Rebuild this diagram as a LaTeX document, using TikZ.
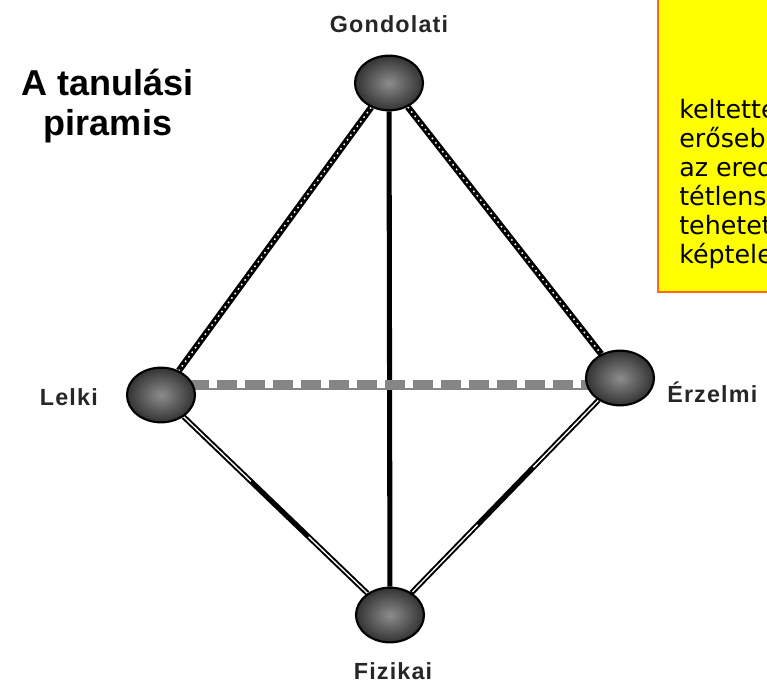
\documentclass[tikz,border=0pt]{standalone}
\usepackage{fontspec}
\setmainfont{Liberation Sans}
\newfontfamily\boxfont{DejaVu Sans}
\newfontfamily\lblfont[LetterSpace=5]{Liberation Sans}
\usetikzlibrary{shapes.geometric,calc,backgrounds}
\definecolor{nodein}{gray}{0.55}
\definecolor{nodeout}{gray}{0.2}
\definecolor{noteyellow}{RGB}{255,255,0}
\definecolor{noteorange}{RGB}{255,102,32}
\definecolor{dashgray}{gray}{0.52}

\begin{document}
\begin{tikzpicture}[x=0.75pt,y=-0.75pt,
  vertex/.style={ellipse,draw=black,line width=1.6pt,minimum width=51pt,
    minimum height=41pt,inner sep=0pt,shading=radial,
    inner color=nodein,outer color=nodeout},
  lbl/.style={font=\lblfont\bfseries\fontsize{17.5}{20}\selectfont,
    text=black!85,inner sep=0pt},
  beadline/.style={line width=4.8pt,black,
    postaction={draw=white,line width=1.1pt,dash pattern=on 1.2pt off 3pt}},
  solidline/.style={line width=3.8pt,black},
  hairline/.style={line width=4pt,black,
    postaction={draw=white,line width=1pt,dash pattern=on 70pt off 60pt}},
  greydash/.style={line width=7pt,dashgray,dash pattern=on 15pt off 6pt},
  notetext/.style={font=\boxfont\fontsize{19}{22}\selectfont,anchor=base west,inner sep=0pt}
]
\useasboundingbox (0,0) rectangle (767,682);

% title
\node[font=\bfseries\fontsize{27}{30}\selectfont,align=center,anchor=base] (title)
  at (108,135) {A tanulási\\piramis};

% the four corners of the pyramid
\node[vertex] (g) at (389,83) {};
\node[vertex] (l) at (161,395) {};
\node[vertex] (e) at (620,378) {};
\node[vertex] (f) at (390,615) {};

% labels
\node[lbl,anchor=base] (gl) at (389,32) {Gondolati};
\node[lbl,anchor=base east] (ll) at (98,405) {Lelki};
\node[lbl,anchor=base west] (el) at (667,402) {Érzelmi};
\node[lbl,anchor=base] (fl) at (393,679) {Fizikai};

% edges
\begin{pgfonlayer}{background}
  \draw[solidline] (g) -- (f);
  \draw[beadline] (g) -- (l);
  \draw[beadline] (g) -- (e);
  \draw[hairline] (l) -- (f);
  \draw[hairline] (e) -- (f);
  \draw[line width=1.6pt,dashgray] ($(l.center)+(0,-6)$) -- ($(e.center)+(0,11)$);
  \draw[greydash] ($(l.center)+(0,-10)$) -- ($(e.center)+(0,7)$);
\end{pgfonlayer}

% note box, running off the right edge
\begin{scope}
  \clip (0,0) rectangle (767,682);
  \node[draw=noteorange,fill=noteyellow,line width=1.6pt,inner sep=0pt,
    minimum width=99pt,minimum height=227pt] (note) at (724,141) {};
  \node[notetext] (n1) at (679,118) {keltette};
  \node[notetext] (n2) at (679,147) {erőseb};
  \node[notetext] (n3) at (679,176) {az ered};
  \node[notetext] (n4) at (679,205) {tétlens};
  \node[notetext] (n5) at (679,234) {tehetet};
  \node[notetext] (n6) at (679,263) {képtele};
\end{scope}
\end{tikzpicture}
\end{document}
